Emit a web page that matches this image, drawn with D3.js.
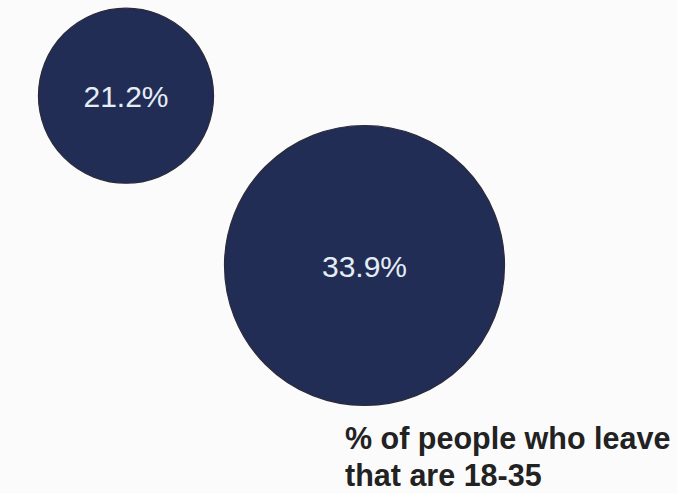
<!DOCTYPE html>
<html>
<head>
<meta charset="utf-8">
<script src="https://cdn.jsdelivr.net/npm/d3@7"></script>
<style>
  html, body { margin: 0; padding: 0; background: #fbfbfc; }
  svg { display: block; }
</style>
</head>
<body>
<svg id="chart" width="677" height="493"></svg>
<script>
// Data
const categories = ["group A", "18-35"];
const values = [21.2, 33.9];
const valueLabels = ["21.2%", "33.9%"];
const captionLines = ["% of people who leave", "that are 18-35"];

const W = 677, H = 493;
const svg = d3.select("#chart");
svg.append("rect").attr("width", W).attr("height", H).attr("fill", "#fbfbfc");

const x = d3.scalePoint().domain(categories).range([126, 364.5]);
const y = d3.scalePoint().domain(categories).range([95.7, 265.5]);
const r = d3.scaleLinear().domain([0, d3.max(values)]).range([0, 140]);

const g = svg.selectAll("g.bubble").data(categories).join("g").attr("class", "bubble");

g.append("circle")
  .attr("cx", d => x(d))
  .attr("cy", d => y(d))
  .attr("r", (d, i) => r(values[i]))
  .attr("fill", "#212d55")
  .attr("stroke", "#2a2a3a")
  .attr("stroke-width", 1.2);

g.append("text")
  .attr("x", d => x(d))
  .attr("y", d => y(d) + 11.5)
  .attr("text-anchor", "middle")
  .attr("font-family", "Liberation Sans, Arial, sans-serif")
  .attr("font-size", 30)
  .attr("fill", "#e6edf5")
  .text((d, i) => valueLabels[i]);

svg.append("text")
  .attr("font-family", "Liberation Sans, Arial, sans-serif")
  .attr("font-weight", "bold")
  .attr("font-size", 30.5)
  .attr("fill", "#222")
  .selectAll("tspan").data(captionLines).join("tspan")
  .attr("x", 345)
  .attr("y", (d, i) => 449 + i * 37)
  .text(d => d);
</script>
</body>
</html>
